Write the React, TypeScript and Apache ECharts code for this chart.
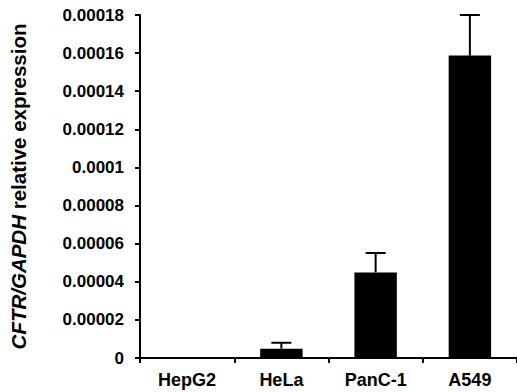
import React, { useEffect, useRef } from "react";
import * as echarts from "echarts";

const categories = ["HepG2", "HeLa", "PanC-1", "A549"];
const meanValues = [0, 0.0000049, 0.0000449, 0.0001587];
const errorTops = [0, 0.000008, 0.0000551, 0.00018];
const yTickLabels = ["0", "0.00002", "0.00004", "0.00006", "0.00008", "0.0001", "0.00012", "0.00014", "0.00016", "0.00018"];

const FONT = "'Liberation Sans', Arial, Helvetica, sans-serif";

export default function App() {
  const ref = useRef<HTMLDivElement>(null);
  useEffect(() => {
    if (!ref.current) return;
    const chart = echarts.init(ref.current, undefined, { renderer: "svg" });
    chart.setOption({
      animation: false,
      backgroundColor: "#ffffff",
      grid: { left: 132, top: 15, right: 0, bottom: 34 },
      xAxis: {
        type: "category",
        data: categories,
        boundaryGap: true,
        axisLine: { show: true, lineStyle: { color: "#000", width: 2 } },
        axisTick: { show: true, inside: false, length: 5, lineStyle: { color: "#000", width: 2 } },
        axisLabel: { color: "#000", fontFamily: FONT, fontWeight: "bold", fontSize: 18, margin: 13 },
        splitLine: { show: false },
      },
      yAxis: {
        type: "value",
        min: 0,
        max: 0.00018,
        interval: 0.00002,
        axisLine: { show: true, lineStyle: { color: "#000", width: 2 } },
        axisTick: { show: true, inside: false, length: 5, lineStyle: { color: "#000", width: 2 } },
        splitLine: { show: false },
        axisLabel: {
          color: "#000",
          fontFamily: FONT,
          fontWeight: "bold",
          fontSize: 17,
          margin: 16,
          formatter: (v: number) => {
            const idx = Math.round(v / 0.00002);
            return yTickLabels[idx] ?? String(v);
          },
        },
        name: "{i|CFTR/GAPDH} relative expression",
        nameLocation: "middle",
        nameGap: 111,
        nameRotate: 90,
        nameTextStyle: {
          color: "#000",
          fontFamily: FONT,
          fontWeight: "bold",
          fontSize: 20.5,
          rich: {
            i: { color: "#000", fontFamily: FONT, fontWeight: "bold", fontStyle: "italic", fontSize: 20.5 },
          },
        },
      },
      series: [
        {
          type: "bar",
          data: meanValues,
          barWidth: "45%",
          itemStyle: { color: "#000" },
        },
        {
          type: "custom",
          data: categories.map((c, i) => [i, meanValues[i], errorTops[i]]),
          renderItem: (params: any, api: any) => {
            const x = api.value(0);
            const lo = api.value(1);
            const hi = api.value(2);
            if (hi <= lo) return null;
            const p1 = api.coord([x, lo]);
            const p2 = api.coord([x, hi]);
            const half = 10;
            return {
              type: "group",
              children: [
                { type: "line", shape: { x1: p1[0], y1: p1[1], x2: p2[0], y2: p2[1] }, style: { stroke: "#000", lineWidth: 2 } },
                { type: "line", shape: { x1: p2[0] - half, y1: p2[1], x2: p2[0] + half, y2: p2[1] }, style: { stroke: "#000", lineWidth: 2 } },
              ],
            };
          },
          z: 3,
        },
      ],
    });
    return () => chart.dispose();
  }, []);
  return <div ref={ref} style={{ position: "fixed", left: 0, top: 0, width: 517, height: 392 }} />;
}
